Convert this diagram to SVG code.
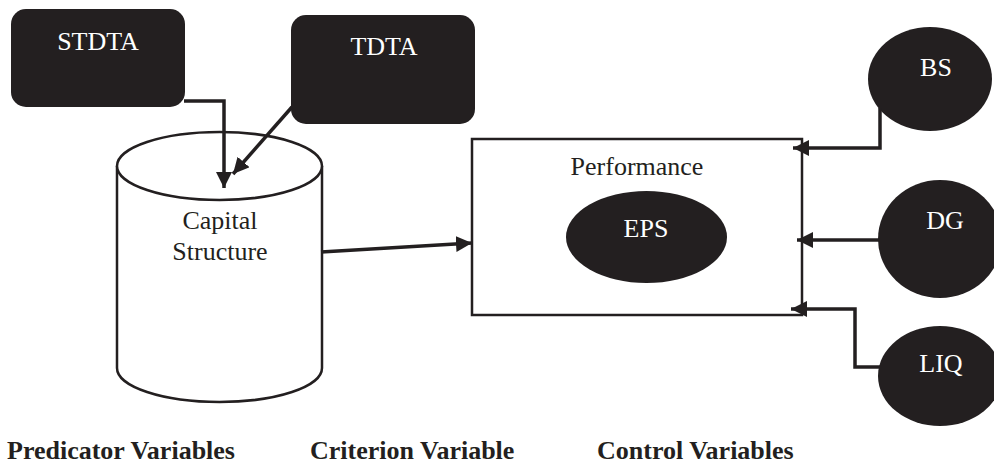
<svg xmlns="http://www.w3.org/2000/svg" width="994" height="464" viewBox="0 0 994 464">
<style>
.dark{fill:#231f20}
.wt{fill:#ffffff;font-family:"Liberation Serif","Times New Roman",serif;font-size:26px;text-anchor:middle}
.bt{fill:#231f20;font-family:"Liberation Serif","Times New Roman",serif;font-size:26px;text-anchor:middle}
.lbl{fill:#231f20;font-family:"Liberation Serif","Times New Roman",serif;font-size:26px;font-weight:bold}
.outline{fill:#ffffff;stroke:#231f20;stroke-width:2.5}
.conn{fill:none;stroke:#231f20;stroke-width:3.5;marker-end:url(#ah)}
</style>
<defs>
<marker id="ah" markerUnits="userSpaceOnUse" markerWidth="18" markerHeight="18" refX="16" refY="8" orient="auto">
<path d="M0,0 L16,8 L0,16 z" fill="#231f20"/>
</marker>
</defs>
<rect width="994" height="464" fill="#ffffff"/>
<g id="stdta">
<rect class="dark" x="11" y="9" width="174" height="98" rx="15"/>
<text class="wt" x="98" y="50">STDTA</text>
</g>
<g id="tdta">
<rect class="dark" x="291" y="15" width="184" height="109" rx="15"/>
<text class="wt" x="384" y="55">TDTA</text>
</g>
<g id="capital-structure">
<path class="outline" d="M117,166 V368 A102.5,34 0 0 0 322,368 V166"/>
<ellipse class="outline" cx="219.5" cy="166" rx="102.5" ry="34"/>
<text class="bt" x="220" y="229">Capital</text>
<text class="bt" x="220" y="260">Structure</text>
</g>
<g id="performance">
<rect class="outline" x="472" y="139" width="330" height="176"/>
<text class="bt" x="637" y="175">Performance</text>
<ellipse class="dark" cx="646.5" cy="237" rx="80.5" ry="46"/>
<text class="wt" x="646" y="237">EPS</text>
</g>
<g id="bs">
<ellipse class="dark" cx="930" cy="79" rx="62" ry="52"/>
<text class="wt" x="936" y="76">BS</text>
</g>
<g id="dg">
<ellipse class="dark" cx="940" cy="239" rx="62" ry="59"/>
<text class="wt" x="945" y="229">DG</text>
</g>
<g id="liq">
<ellipse class="dark" cx="940" cy="376" rx="62" ry="50"/>
<text class="wt" x="941" y="372">LIQ</text>
</g>
<g id="connectors">
<path class="conn" d="M184,101 H224 V188"/>
<path class="conn" d="M292,107 L233,174"/>
<path class="conn" d="M321,252 L472,243"/>
<path class="conn" d="M880,108 V148 H793"/>
<path class="conn" d="M880,240 H797"/>
<path class="conn" d="M880,367 H855 V309 H791"/>
</g>
<g id="labels">
<text class="lbl" x="7" y="459">Predicator Variables</text>
<text class="lbl" x="310" y="459">Criterion Variable</text>
<text class="lbl" x="597" y="459">Control Variables</text>
</g>
</svg>
